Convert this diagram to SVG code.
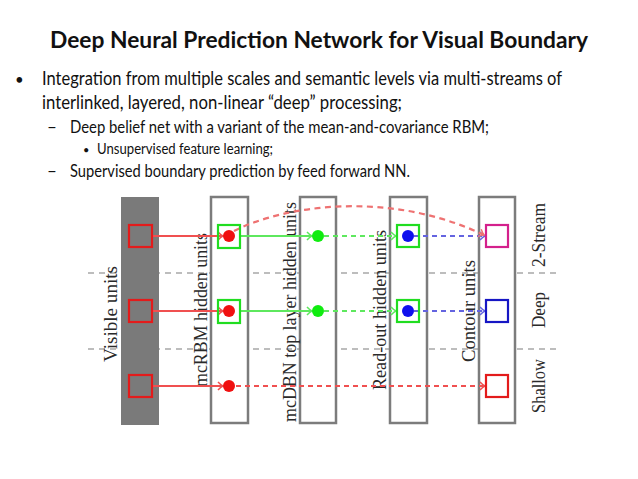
<svg xmlns="http://www.w3.org/2000/svg" width="638" height="479" viewBox="0 0 638 479">
<style>
.t{font-family:Lato,"Open Sans","Liberation Sans",sans-serif;fill:#111}
.lab{font-family:"Liberation Serif","DejaVu Serif",serif;font-size:18px;fill:#2a2a2a;text-anchor:middle}
.box{fill:#fff;stroke:#7c7c7c;stroke-width:2.5}
.sep{stroke:#a8a8a8;stroke-width:1.3;stroke-dasharray:6 5;fill:none}
.sq{fill:none;stroke-width:2.2}
.red{stroke:#e31b1b}
.grn{stroke:#20dd20}
.mag{stroke:#d4208c}
.blu{stroke:#1616c4}
.lr{stroke:#f05050;stroke-width:2;fill:none}
.lg{stroke:#5ee85e;stroke-width:2;fill:none}
.lb{stroke:#6464e0;stroke-width:2;fill:none}
.d{stroke-dasharray:5 4}
.arc{stroke:#ee7272;stroke-width:2.2;fill:none;stroke-dasharray:6 4.5}
</style>
<defs>
<marker id="ar" viewBox="-6 -5 8 10" refX="0" refY="0" markerWidth="8" markerHeight="10" markerUnits="userSpaceOnUse" orient="auto"><path d="M-5,-4 Q-2,-0.8 0,0 Q-2,0.8 -5,4" fill="none" stroke="#f05050" stroke-width="1.5"/></marker>
<marker id="ag" viewBox="-6 -5 8 10" refX="0" refY="0" markerWidth="8" markerHeight="10" markerUnits="userSpaceOnUse" orient="auto"><path d="M-5,-4 Q-2,-0.8 0,0 Q-2,0.8 -5,4" fill="none" stroke="#5ee85e" stroke-width="1.5"/></marker>
<marker id="ab" viewBox="-6 -5 8 10" refX="0" refY="0" markerWidth="8" markerHeight="10" markerUnits="userSpaceOnUse" orient="auto"><path d="M-5,-4 Q-2,-0.8 0,0 Q-2,0.8 -5,4" fill="none" stroke="#6464e0" stroke-width="1.5"/></marker>
<marker id="aa" viewBox="-6 -5 8 10" refX="0" refY="0" markerWidth="8" markerHeight="10" markerUnits="userSpaceOnUse" orient="auto"><path d="M-5,-4 Q-2,-0.8 0,0 Q-2,0.8 -5,4" fill="none" stroke="#ee7272" stroke-width="1.5"/></marker>
</defs>
<rect width="638" height="479" fill="#fff"/>

<g id="title">
<text class="t" x="50" y="48" font-size="23" font-weight="bold" textLength="538" lengthAdjust="spacingAndGlyphs">Deep Neural Prediction Network for Visual Boundary</text>
</g>
<g id="bullets">
<text class="t" x="15" y="85" font-size="15">•</text>
<text class="t" x="42" y="85" font-size="18.5" textLength="520" lengthAdjust="spacingAndGlyphs">Integration from multiple scales and semantic levels via multi-streams of</text>
<text class="t" x="42" y="109" font-size="18.5" textLength="360" lengthAdjust="spacingAndGlyphs">interlinked, layered, non-linear “deep” processing;</text>
<text class="t" x="47" y="133" font-size="17">–</text>
<text class="t" x="70" y="133" font-size="17" textLength="419" lengthAdjust="spacingAndGlyphs">Deep belief net with  a variant of the mean-and-covariance RBM;</text>
<text class="t" x="83" y="154" font-size="11">•</text>
<text class="t" x="97" y="154" font-size="14.5" textLength="176" lengthAdjust="spacingAndGlyphs">Unsupervised feature learning;</text>
<text class="t" x="47" y="177" font-size="17">–</text>
<text class="t" x="70" y="177" font-size="17" textLength="340" lengthAdjust="spacingAndGlyphs">Supervised boundary prediction by feed forward NN.</text>
</g>

<g id="separators">
<line class="sep" x1="88" y1="273" x2="560" y2="273"/>
<line class="sep" x1="88" y1="349" x2="560" y2="349"/>
</g>

<g id="visible-layer">
<rect x="121" y="197" width="38" height="228" fill="#7a7a7a"/>
<text class="lab" transform="translate(117,314) rotate(-90)" textLength="96" lengthAdjust="spacingAndGlyphs">Visible units</text>
</g>
<g id="mcrbm-layer">
<rect class="box" x="211" y="197" width="37" height="226"/>
<text class="lab" transform="translate(207,310) rotate(-90)" textLength="154" lengthAdjust="spacingAndGlyphs">mcRBM hidden units</text>
</g>
<g id="mcdbn-layer">
<rect class="box" x="300" y="197" width="36" height="226"/>
<text class="lab" transform="translate(296,312) rotate(-90)" textLength="220" lengthAdjust="spacingAndGlyphs">mcDBN top layer hidden units</text>
</g>
<g id="readout-layer">
<rect class="box" x="390" y="197" width="37" height="226"/>
<text class="lab" transform="translate(386,310) rotate(-90)" textLength="160" lengthAdjust="spacingAndGlyphs">Read-out hidden units</text>
</g>
<g id="contour-layer">
<rect class="box" x="479" y="197" width="36" height="226"/>
<text class="lab" transform="translate(475,311) rotate(-90)" textLength="102" lengthAdjust="spacingAndGlyphs">Contour units</text>
</g>
<g id="stream-labels">
<text class="lab" transform="translate(545,235) rotate(-90)" textLength="64" lengthAdjust="spacingAndGlyphs">2-Stream</text>
<text class="lab" transform="translate(545,310) rotate(-90)" textLength="36" lengthAdjust="spacingAndGlyphs">Deep</text>
<text class="lab" transform="translate(545,386) rotate(-90)" textLength="54" lengthAdjust="spacingAndGlyphs">Shallow</text>
</g>

<g id="connectors">
<line class="lr" x1="152" y1="236" x2="223" y2="236" marker-end="url(#ar)"/>
<line class="lg" x1="240" y1="236" x2="312" y2="236" marker-end="url(#ag)"/>
<line class="lg d" x1="324" y1="236" x2="396" y2="236" marker-end="url(#ag)"/>
<line class="lb d" x1="414" y1="236" x2="485" y2="236" marker-end="url(#ab)"/>
<path class="arc" d="M234,231 C285,205 390,190 484,235" marker-end="url(#aa)"/>
<line class="lr" x1="152" y1="311" x2="223" y2="311" marker-end="url(#ar)"/>
<line class="lg" x1="240" y1="311" x2="312" y2="311" marker-end="url(#ag)"/>
<line class="lg d" x1="324" y1="311" x2="396" y2="311" marker-end="url(#ag)"/>
<line class="lb d" x1="414" y1="311" x2="485" y2="311" marker-end="url(#ab)"/>
<line class="lr" x1="152" y1="386" x2="223" y2="386" marker-end="url(#ar)"/>
<line class="lr d" x1="236" y1="386" x2="485" y2="386" marker-end="url(#ar)"/>
</g>

<g id="v1"><rect class="sq red" x="129" y="225" width="23" height="22"/></g>
<g id="v2"><rect class="sq red" x="129" y="300" width="23" height="22"/></g>
<g id="v3"><rect class="sq red" x="129" y="375" width="23" height="22"/></g>
<g id="h1"><rect class="sq grn" x="218" y="225" width="22" height="23"/><circle cx="229" cy="236" r="6" fill="#f01010"/></g>
<g id="h2"><rect class="sq grn" x="218" y="300" width="22" height="23"/><circle cx="229" cy="311" r="6" fill="#f01010"/></g>
<g id="h3"><circle cx="229" cy="386" r="6" fill="#f01010"/></g>
<g id="t1"><circle cx="318" cy="236" r="6" fill="#10ec10"/></g>
<g id="t2"><circle cx="318" cy="311" r="6" fill="#10ec10"/></g>
<g id="r1"><rect class="sq grn" x="397" y="225" width="22" height="22"/><circle cx="408" cy="236" r="6" fill="#1010ee"/></g>
<g id="r2"><rect class="sq grn" x="397" y="300" width="22" height="22"/><circle cx="408" cy="311" r="6" fill="#1010ee"/></g>
<g id="c1"><rect class="sq mag" x="486" y="225" width="22" height="22"/></g>
<g id="c2"><rect class="sq blu" x="486" y="300" width="22" height="22"/></g>
<g id="c3"><rect class="sq red" x="486" y="375" width="22" height="22"/></g>
</svg>
